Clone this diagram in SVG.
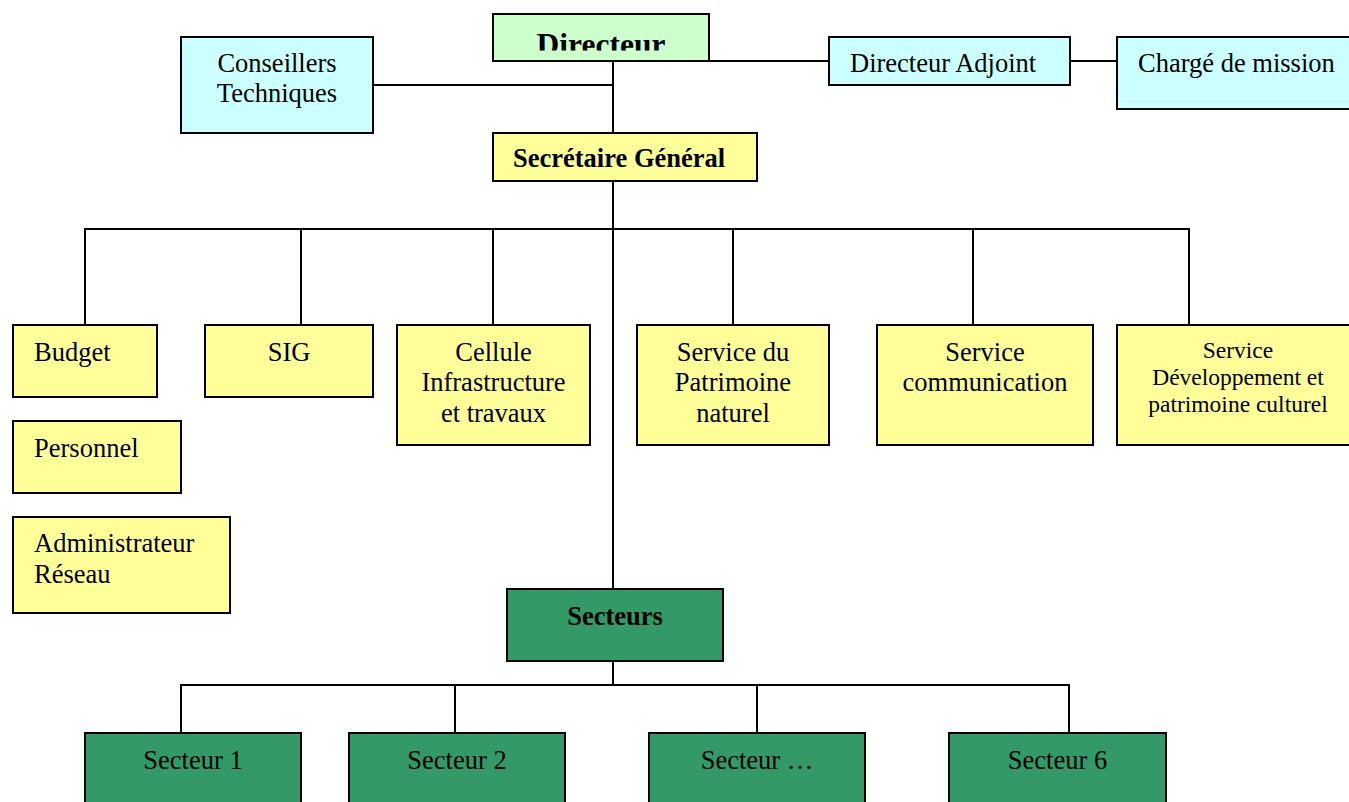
<svg xmlns="http://www.w3.org/2000/svg" width="1349" height="802" viewBox="0 0 1349 802">
<style>
  .box { stroke: #000; stroke-width: 2; }
  .cyan { fill: #ccffff; }
  .yellow { fill: #ffff99; }
  .lgreen { fill: #ccffcc; }
  .dgreen { fill: #339966; }
  text { font-family: "Liberation Serif", "Times New Roman", serif; font-size: 26.5px; fill: #000; }
  .c { text-anchor: middle; }
  .b { font-weight: bold; }
  .sm { font-size: 23.5px; }
  .conn line { stroke: #000; stroke-width: 2; }
</style>
<defs>
  <clipPath id="dirclip"><rect x="493" y="14" width="216" height="36.5"/></clipPath>
</defs>
<rect width="1349" height="802" fill="#fff"/>
<g class="conn" id="connectors">
  <line x1="373" y1="85" x2="613" y2="85"/>
  <line x1="613" y1="61" x2="613" y2="133"/>
  <line x1="709" y1="61" x2="829" y2="61"/>
  <line x1="1070" y1="61" x2="1117" y2="61"/>
  <line x1="613" y1="181" x2="613" y2="229"/>
  <line x1="84" y1="229" x2="1190" y2="229"/>
  <line x1="85" y1="229" x2="85" y2="325"/>
  <line x1="301" y1="229" x2="301" y2="325"/>
  <line x1="493" y1="229" x2="493" y2="325"/>
  <line x1="733" y1="229" x2="733" y2="325"/>
  <line x1="973" y1="229" x2="973" y2="325"/>
  <line x1="1189" y1="229" x2="1189" y2="325"/>
  <line x1="613" y1="229" x2="613" y2="589"/>
  <line x1="613" y1="661" x2="613" y2="685"/>
  <line x1="180" y1="685" x2="1070" y2="685"/>
  <line x1="181" y1="685" x2="181" y2="733"/>
  <line x1="455" y1="685" x2="455" y2="733"/>
  <line x1="757" y1="685" x2="757" y2="733"/>
  <line x1="1069" y1="685" x2="1069" y2="733"/>
</g>
<g id="directeur">
  <rect class="box lgreen" x="493" y="14" width="216" height="47"/>
  <text class="c b" x="601" y="54.5" style="font-size:31.5px" clip-path="url(#dirclip)">Directeur</text>
</g>
<g id="conseillers">
  <rect class="box cyan" x="181" y="37" width="192" height="96"/>
  <text class="c" x="277" y="71.5">Conseillers</text>
  <text class="c" x="277" y="102">Techniques</text>
</g>
<g id="adjoint">
  <rect class="box cyan" x="829" y="37" width="241" height="48"/>
  <text x="850" y="72">Directeur Adjoint</text>
</g>
<g id="charge">
  <rect class="box cyan" x="1117" y="37" width="240" height="72"/>
  <text x="1138" y="72">Chargé de mission</text>
</g>
<g id="secretaire">
  <rect class="box yellow" x="493" y="133" width="264" height="48"/>
  <text class="b" x="513" y="167">Secrétaire Général</text>
</g>
<g id="budget">
  <rect class="box yellow" x="13" y="325" width="144" height="72"/>
  <text x="34" y="361">Budget</text>
</g>
<g id="personnel">
  <rect class="box yellow" x="13" y="421" width="168" height="72"/>
  <text x="34" y="457">Personnel</text>
</g>
<g id="admin">
  <rect class="box yellow" x="13" y="517" width="217" height="96"/>
  <text x="34" y="552">Administrateur</text>
  <text x="34" y="583">Réseau</text>
</g>
<g id="sig">
  <rect class="box yellow" x="205" y="325" width="168" height="72"/>
  <text class="c" x="289" y="361">SIG</text>
</g>
<g id="cellule">
  <rect class="box yellow" x="397" y="325" width="193" height="120"/>
  <text class="c" x="493.5" y="361">Cellule</text>
  <text class="c" x="493.5" y="391">Infrastructure</text>
  <text class="c" x="493.5" y="421.5">et travaux</text>
</g>
<g id="patrimoine-naturel">
  <rect class="box yellow" x="637" y="325" width="192" height="120"/>
  <text class="c" x="733" y="361">Service du</text>
  <text class="c" x="733" y="391">Patrimoine</text>
  <text class="c" x="733" y="421.5">naturel</text>
</g>
<g id="communication">
  <rect class="box yellow" x="877" y="325" width="216" height="120"/>
  <text class="c" x="985" y="361">Service</text>
  <text class="c" x="985" y="391">communication</text>
</g>
<g id="developpement">
  <rect class="box yellow" x="1117" y="325" width="245" height="120"/>
  <text class="c sm" x="1238" y="358">Service</text>
  <text class="c sm" x="1238" y="385">Développement et</text>
  <text class="c sm" x="1238" y="411.5">patrimoine culturel</text>
</g>
<g id="secteurs">
  <rect class="box dgreen" x="507" y="589" width="216" height="72"/>
  <text class="c b" x="615" y="625">Secteurs</text>
</g>
<g id="secteur1">
  <rect class="box dgreen" x="85" y="733" width="216" height="80"/>
  <text class="c" x="193" y="769">Secteur 1</text>
</g>
<g id="secteur2">
  <rect class="box dgreen" x="349" y="733" width="216" height="80"/>
  <text class="c" x="457" y="769">Secteur 2</text>
</g>
<g id="secteur-etc">
  <rect class="box dgreen" x="649" y="733" width="216" height="80"/>
  <text class="c" x="757" y="769">Secteur …</text>
</g>
<g id="secteur6">
  <rect class="box dgreen" x="949" y="733" width="217" height="80"/>
  <text class="c" x="1057.5" y="769">Secteur 6</text>
</g>
</svg>
